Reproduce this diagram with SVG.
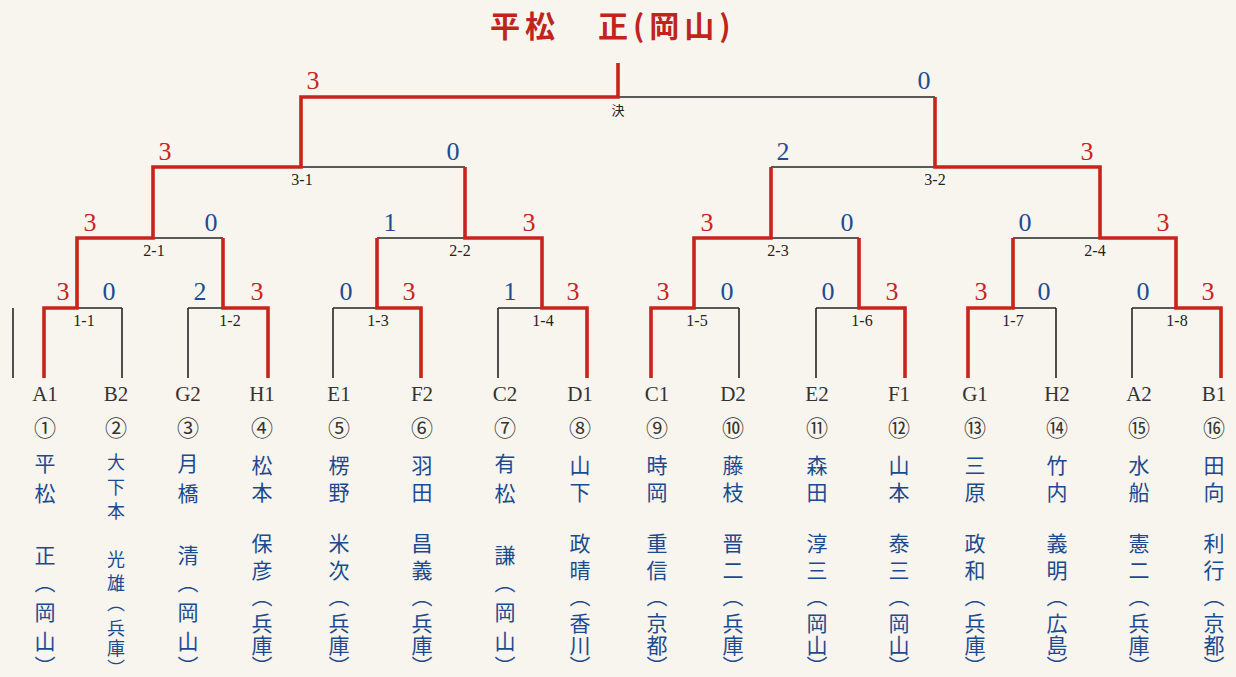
<svg xmlns="http://www.w3.org/2000/svg" width="1236" height="677" viewBox="0 0 1236 677">
<defs>
<style>
.bg{fill:#f7f5ee}
.blk{fill:none;stroke:#262626;stroke-width:1.6}
.red{fill:none;stroke:#c8241c;stroke-width:3.6;stroke-linejoin:miter;stroke-linecap:butt}
.title{font-family:"Noto Sans CJK JP","Noto Sans CJK SC",sans-serif;font-weight:bold;font-size:30px;fill:#c0241c;letter-spacing:5px}
.sr{font-family:"Liberation Serif","DejaVu Serif",serif;font-size:26px;fill:#c8241c;text-anchor:middle}
.sb{font-family:"Liberation Serif","DejaVu Serif",serif;font-size:26px;fill:#1d4c94;text-anchor:middle}
.ml{font-family:"Liberation Serif","DejaVu Serif",serif;font-size:16px;fill:#222;text-anchor:middle}
.kj{font-family:"Noto Sans CJK JP",sans-serif;font-size:13px;fill:#222;text-anchor:middle}
.lf{font-family:"Liberation Serif","DejaVu Serif",serif;font-size:21px;fill:#333;text-anchor:middle}
.cn{font-family:"Noto Sans CJK JP",sans-serif;font-size:22px;fill:#333;text-anchor:middle}
.nm{font-family:"Noto Sans CJK JP","Noto Sans CJK SC",sans-serif;font-size:21px;fill:#1c4a90;writing-mode:vertical-rl}
.nms{font-family:"Noto Sans CJK JP","Noto Sans CJK SC",sans-serif;font-size:18px;fill:#1c4a90;writing-mode:vertical-rl}
</style>
</defs>
<rect class="bg" x="0" y="0" width="1236" height="677"/>

<g id="title">
<text class="title" y="37"><tspan x="490">平松</tspan><tspan x="598">正(岡山)</tspan></text>
</g>

<g id="connectors">
<path class="blk" d="M13 308V378 M122 308V378 M188 308V378 M333 308V378 M498 308V378 M739 308V378 M816 308V378 M1056 308V378 M1132 308V378
M77 308H122 M188 308H223 M333 308H377 M498 308H542 M694 308H739 M816 308H859 M1013 308H1056 M1132 308H1176
M153 238H223 M377 238H465 M771 238H859 M1013 238H1100
M301 167H465 M771 167H935
M618 97H935"/>
<path class="red" d="M44 378V308H77V238H153V167H301V97H618V63"/>
<path class="red" d="M268 378V308H223V238"/>
<path class="red" d="M421 378V308H377V238"/>
<path class="red" d="M587 378V308H542V238H465V167"/>
<path class="red" d="M651 378V308H694V238H771V167"/>
<path class="red" d="M905 378V308H859V238"/>
<path class="red" d="M968 378V308H1013V238"/>
<path class="red" d="M1221 378V308H1176V238H1100V167H935V97"/>
</g>

<g id="match-final"><text class="sr" x="313" y="89">3</text><text class="sb" x="924" y="89">0</text><text class="kj" x="618" y="115">決</text></g>
<g id="match-3-1"><text class="sr" x="165" y="160">3</text><text class="sb" x="453" y="160">0</text><text class="ml" x="302" y="185">3-1</text></g>
<g id="match-3-2"><text class="sb" x="783" y="160">2</text><text class="sr" x="1087" y="160">3</text><text class="ml" x="935" y="185">3-2</text></g>
<g id="match-2-1"><text class="sr" x="90" y="231">3</text><text class="sb" x="211" y="231">0</text><text class="ml" x="154" y="256">2-1</text></g>
<g id="match-2-2"><text class="sb" x="390" y="231">1</text><text class="sr" x="529" y="231">3</text><text class="ml" x="460" y="256">2-2</text></g>
<g id="match-2-3"><text class="sr" x="707" y="231">3</text><text class="sb" x="847" y="231">0</text><text class="ml" x="778" y="256">2-3</text></g>
<g id="match-2-4"><text class="sb" x="1025" y="231">0</text><text class="sr" x="1163" y="231">3</text><text class="ml" x="1095" y="256">2-4</text></g>
<g id="match-1-1"><text class="sr" x="63" y="300">3</text><text class="sb" x="109" y="300">0</text><text class="ml" x="84" y="326">1-1</text></g>
<g id="match-1-2"><text class="sb" x="200" y="300">2</text><text class="sr" x="257" y="300">3</text><text class="ml" x="230" y="326">1-2</text></g>
<g id="match-1-3"><text class="sb" x="346" y="300">0</text><text class="sr" x="409" y="300">3</text><text class="ml" x="378" y="326">1-3</text></g>
<g id="match-1-4"><text class="sb" x="510" y="300">1</text><text class="sr" x="573" y="300">3</text><text class="ml" x="543" y="326">1-4</text></g>
<g id="match-1-5"><text class="sr" x="663" y="300">3</text><text class="sb" x="727" y="300">0</text><text class="ml" x="697" y="326">1-5</text></g>
<g id="match-1-6"><text class="sb" x="828" y="300">0</text><text class="sr" x="892" y="300">3</text><text class="ml" x="862" y="326">1-6</text></g>
<g id="match-1-7"><text class="sr" x="981" y="300">3</text><text class="sb" x="1044" y="300">0</text><text class="ml" x="1013" y="326">1-7</text></g>
<g id="match-1-8"><text class="sb" x="1143" y="300">0</text><text class="sr" x="1208" y="300">3</text><text class="ml" x="1177" y="326">1-8</text></g>

<g id="player-1"><text class="lf" x="45" y="401">A1</text><text class="cn" x="45" y="436">①</text>
<text class="nm" x="45"><tspan y="452.5 482.5">平松</tspan><tspan y="544.5">正</tspan><tspan y="572 602 631 656">（岡山）</tspan></text></g>
<g id="player-2"><text class="lf" x="116" y="401">B2</text><text class="cn" x="116" y="436">②</text>
<text class="nms" x="116"><tspan y="453 478 502">大下本</tspan><tspan y="550 574">光雄</tspan><tspan y="594 619 639 659">（兵庫）</tspan></text></g>
<g id="player-3"><text class="lf" x="188" y="401">G2</text><text class="cn" x="188" y="436">③</text>
<text class="nm" x="188"><tspan y="452.5 482.5">月橋</tspan><tspan y="544.5">清</tspan><tspan y="572 602 631 656">（岡山）</tspan></text></g>
<g id="player-4"><text class="lf" x="262" y="401">H1</text><text class="cn" x="262" y="436">④</text>
<text class="nm" x="262"><tspan y="454.5 481.5">松本</tspan><tspan y="532.5 559.5">保彦</tspan><tspan y="586 613 635 656">（兵庫）</tspan></text></g>
<g id="player-5"><text class="lf" x="339" y="401">E1</text><text class="cn" x="339" y="436">⑤</text>
<text class="nm" x="339"><tspan y="454.5 481.5">楞野</tspan><tspan y="532.5 559.5">米次</tspan><tspan y="586 613 635 656">（兵庫）</tspan></text></g>
<g id="player-6"><text class="lf" x="422" y="401">F2</text><text class="cn" x="422" y="436">⑥</text>
<text class="nm" x="422"><tspan y="454.5 481.5">羽田</tspan><tspan y="532.5 559.5">昌義</tspan><tspan y="586 613 635 656">（兵庫）</tspan></text></g>
<g id="player-7"><text class="lf" x="505" y="401">C2</text><text class="cn" x="505" y="436">⑦</text>
<text class="nm" x="505"><tspan y="452.5 482.5">有松</tspan><tspan y="544.5">謙</tspan><tspan y="572 602 631 656">（岡山）</tspan></text></g>
<g id="player-8"><text class="lf" x="580" y="401">D1</text><text class="cn" x="580" y="436">⑧</text>
<text class="nm" x="580"><tspan y="454.5 481.5">山下</tspan><tspan y="532.5 559.5">政晴</tspan><tspan y="586 613 635 656">（香川）</tspan></text></g>
<g id="player-9"><text class="lf" x="657" y="401">C1</text><text class="cn" x="657" y="436">⑨</text>
<text class="nm" x="657"><tspan y="454.5 481.5">時岡</tspan><tspan y="532.5 559.5">重信</tspan><tspan y="586 613 635 656">（京都）</tspan></text></g>
<g id="player-10"><text class="lf" x="733" y="401">D2</text><text class="cn" x="733" y="436">⑩</text>
<text class="nm" x="733"><tspan y="454.5 481.5">藤枝</tspan><tspan y="532.5 559.5">晋二</tspan><tspan y="586 613 635 656">（兵庫）</tspan></text></g>
<g id="player-11"><text class="lf" x="817" y="401">E2</text><text class="cn" x="817" y="436">⑪</text>
<text class="nm" x="817"><tspan y="454.5 481.5">森田</tspan><tspan y="532.5 559.5">淳三</tspan><tspan y="586 613 635 656">（岡山）</tspan></text></g>
<g id="player-12"><text class="lf" x="899" y="401">F1</text><text class="cn" x="899" y="436">⑫</text>
<text class="nm" x="899"><tspan y="454.5 481.5">山本</tspan><tspan y="532.5 559.5">泰三</tspan><tspan y="586 613 635 656">（岡山）</tspan></text></g>
<g id="player-13"><text class="lf" x="975" y="401">G1</text><text class="cn" x="975" y="436">⑬</text>
<text class="nm" x="975"><tspan y="454.5 481.5">三原</tspan><tspan y="532.5 559.5">政和</tspan><tspan y="586 613 635 656">（兵庫）</tspan></text></g>
<g id="player-14"><text class="lf" x="1057" y="401">H2</text><text class="cn" x="1057" y="436">⑭</text>
<text class="nm" x="1057"><tspan y="454.5 481.5">竹内</tspan><tspan y="532.5 559.5">義明</tspan><tspan y="586 613 635 656">（広島）</tspan></text></g>
<g id="player-15"><text class="lf" x="1139" y="401">A2</text><text class="cn" x="1139" y="436">⑮</text>
<text class="nm" x="1139"><tspan y="454.5 481.5">水船</tspan><tspan y="532.5 559.5">憲二</tspan><tspan y="586 613 635 656">（兵庫）</tspan></text></g>
<g id="player-16"><text class="lf" x="1214" y="401">B1</text><text class="cn" x="1214" y="436">⑯</text>
<text class="nm" x="1214"><tspan y="454.5 481.5">田向</tspan><tspan y="532.5 559.5">利行</tspan><tspan y="586 613 635 656">（京都）</tspan></text></g>
</svg>
